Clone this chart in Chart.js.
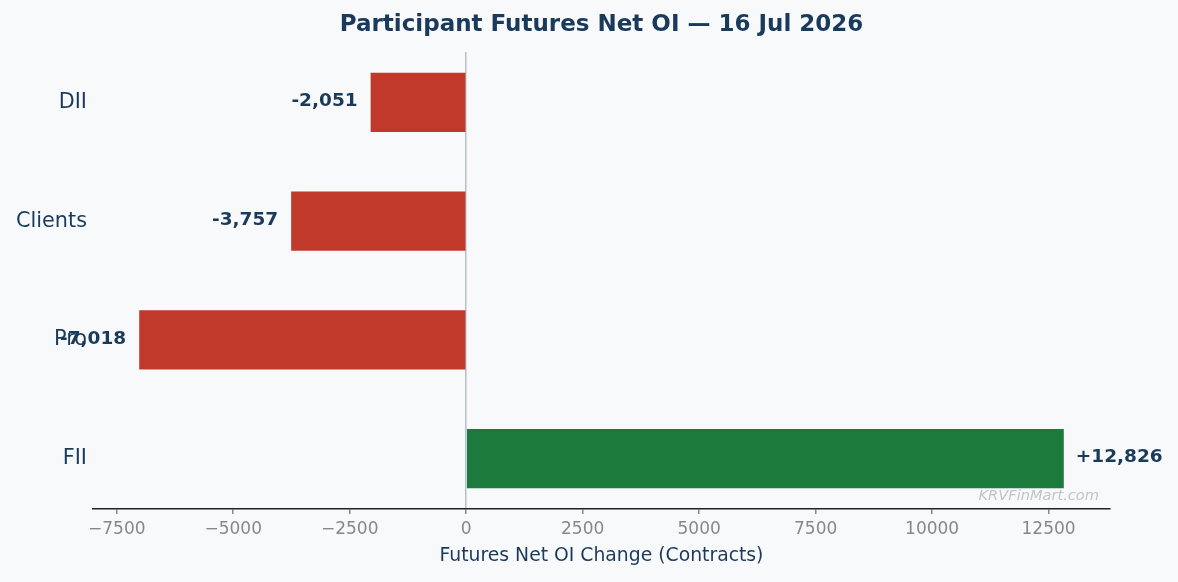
<!DOCTYPE html>
<html>
<head>
<meta charset="utf-8">
<script src="https://cdn.jsdelivr.net/npm/chart.js@4"></script>
<style>
  html, body { margin: 0; padding: 0; background: #f8f9fb; }
  #wrap { width: 1178px; height: 582px; }
</style>
</head>
<body>
<div id="wrap"><canvas id="oi"></canvas></div>
<script>
const participants = ['DII', 'Clients', 'Pro', 'FII'];
const netOiChange = [-2051, -3757, -7018, 12826];
const xTicks = [-7500, -5000, -2500, 0, 2500, 5000, 7500, 10000, 12500];

const NAVY = '#1a3a5c';
const FONT = 'DejaVu Sans';

// value text next to each bar
const valueLabels = {
    id: 'valueLabels',
    afterDatasetsDraw(chart) {
        const ctx = chart.ctx;
        const meta = chart.getDatasetMeta(0);
        ctx.save();
        ctx.font = 'bold 18.5px "' + FONT + '"';
        ctx.fillStyle = NAVY;
        ctx.textBaseline = 'middle';
        meta.data.forEach((bar, i) => {
            const v = netOiChange[i];
            const txt = (v > 0 ? '+' : '-') + Math.abs(v).toLocaleString('en-US');
            if (v < 0) {
                ctx.textAlign = 'right';
                ctx.fillText(txt, bar.x - 13, bar.y - 1);
            } else {
                ctx.textAlign = 'left';
                ctx.fillText(txt, bar.x + 12, bar.y - 1);
            }
        });
        ctx.restore();
    }
};

const watermark = {
    id: 'watermark',
    afterDraw(chart) {
        const ctx = chart.ctx;
        ctx.save();
        ctx.font = 'italic 14.6px "' + FONT + '"';
        ctx.fillStyle = '#bfc4cb';
        ctx.textAlign = 'right';
        ctx.textBaseline = 'middle';
        ctx.fillText('KRVFinMart.com', chart.chartArea.right - 11, chart.chartArea.bottom - 13);
        ctx.restore();
    }
};

new Chart(document.getElementById('oi'), {
    type: 'bar',
    data: {
        datasets: [{
            data: participants.map((p, i) => ({ x: netOiChange[i], y: i })),
            backgroundColor: netOiChange.map(v => v < 0 ? '#c0392b' : '#1b7a3c'),
            borderWidth: 0,
            categoryPercentage: 1,
            barPercentage: 0.5
        }]
    },
    options: {
        indexAxis: 'y',
        responsive: true,
        maintainAspectRatio: false,
        animation: false,
        layout: { padding: { left: 0, right: 68, top: 0, bottom: 0 } },
        plugins: {
            legend: { display: false },
            tooltip: { enabled: false },
            title: {
                display: true,
                fullSize: false,
                text: 'Participant Futures Net OI \u2014 16 Jul 2026',
                color: NAVY,
                font: { family: FONT, size: 23, weight: 'bold' },
                padding: { top: 11, bottom: 13.4 }
            }
        },
        scales: {
            x: {
                type: 'linear',
                min: -8010,
                max: 13818,
                afterBuildTicks(scale) {
                    scale.ticks = xTicks.map(v => ({ value: v }));
                },
                afterFit(scale) { scale.height = 73; },
                ticks: {
                    color: '#888888',
                    font: { family: FONT, size: 17 },
                    padding: 5,
                    callback: v => v < 0 ? '\u2212' + Math.abs(v) : String(v)
                },
                grid: {
                    drawOnChartArea: true,
                    drawTicks: true,
                    tickLength: 5,
                    tickColor: '#888888',
                    lineWidth: 1.5,
                    color: c => (c.tick && c.tick.value === 0) ? '#b4c0cc' : 'rgba(0,0,0,0)'
                },
                border: { display: true, color: '#222222', width: 1.5 },
                title: {
                    display: true,
                    text: 'Futures Net OI Change (Contracts)',
                    color: NAVY,
                    font: { family: FONT, size: 18.8 },
                    padding: { top: 0, bottom: 15 }
                }
            },
            y: {
                type: 'linear',
                reverse: true,
                offset: false,
                min: -0.425,
                max: 3.425,
                afterBuildTicks(scale) {
                    scale.ticks = participants.map((p, i) => ({ value: i }));
                },
                afterFit(scale) { scale.width = 93; },
                ticks: {
                    color: NAVY,
                    font: { family: FONT, size: 20.8 },
                    padding: -2,
                    callback: v => participants[v]
                },
                grid: { display: false, offset: false },
                border: { display: false }
            }
        }
    },
    plugins: [valueLabels, watermark]
});
</script>
</body>
</html>
